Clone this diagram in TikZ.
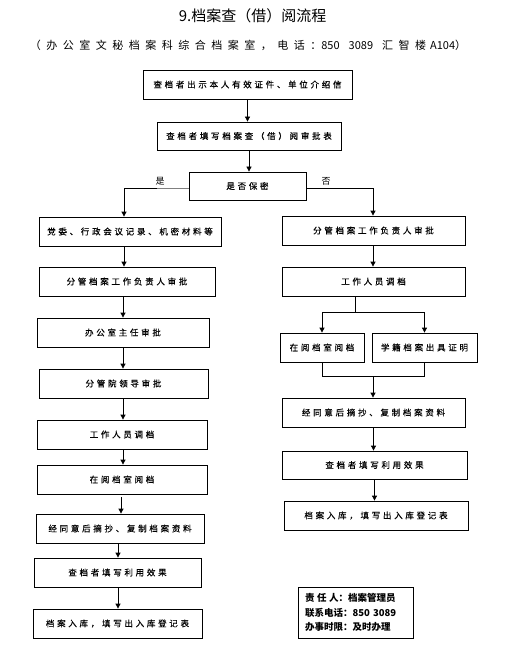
\documentclass[tikz,border=0pt]{standalone}
\usepackage{fontspec}
\setmainfont{Noto Sans CJK SC}
\newfontfamily\cjkplain{Noto Sans CJK SC}
\newfontfamily\cjksp[LetterSpace=32,FakeBold=0.2]{Noto Sans CJK SC}
\newfontfamily\cjksub[LetterSpace=50]{Noto Sans CJK SC}
\usetikzlibrary{arrows.meta}
\newcommand{\boxfont}{\cjksp\fontsize{8.5}{10}\selectfont}
\begin{document}
\begin{tikzpicture}[x=1pt,y=-1pt,
  box/.style={draw, line width=0.8pt, inner sep=0pt, minimum height=29pt, font=\boxfont},
  arr/.style={line width=0.8pt, -{Triangle[length=5pt,width=5pt]}},
  ln/.style={line width=0.8pt},
  lab/.style={font=\fontsize{9}{10}\selectfont, inner sep=0pt}]
\useasboundingbox[fill=white] (0,0) rectangle (517,655);

\node (title) at (252.5,16) {\fontsize{15}{15}\selectfont 9.档案查（借）阅流程};
\node (sub) at (248,45) {\fontsize{11}{12}\selectfont{\cjksub （办公室文秘档案科综合档案室，电话：}\cjkplain 850\hspace{9pt}3089\hspace{9pt}{\cjksub 汇智楼}\hspace{4pt}A104{\cjksub ）}};

\node[box, minimum width=209pt] (b1) at (247.5,84.5) {查档者出示本人有效证件、单位介绍信};
\node[box, minimum width=184pt, minimum height=28pt] (b2) at (249,136) {查档者填写档案查（借）阅审批表};
\node[box, minimum width=117pt, minimum height=28pt] (dec) at (247.5,186) {是否保密};

% left column
\node[box, minimum width=182pt] (L1) at (130,231.5) {党委、行政会议记录、机密材料等};
\node[box, minimum width=176pt] (L2) at (127,281.5) {分管档案工作负责人审批};
\node[box, minimum width=172pt] (L3) at (123,332.5) {办公室主任审批};
\node[box, minimum width=169pt] (L4) at (123.5,383.5) {分管院领导审批};
\node[box, minimum width=170pt] (L5) at (122,434.5) {工作人员调档};
\node[box, minimum width=170pt] (L6) at (122,479.5) {在阅档室阅档};
\node[box, minimum width=168pt] (L7) at (120,528.5) {经同意后摘抄、复制档案资料};
\node[box, minimum width=167pt] (L8) at (117.5,572.5) {查档者填写利用效果};
\node[box, minimum width=169pt] (L9) at (117.5,623.5) {档案入库，填写出入库登记表};

% right column
\node[box, minimum width=183pt] (R1) at (373.5,230.5) {分管档案工作负责人审批};
\node[box, minimum width=183pt] (R2) at (373.5,281.5) {工作人员调档};
\node[box, minimum width=84pt] (R3a) at (322,347.5) {在阅档室阅档};
\node[box, minimum width=105pt] (R3b) at (424.5,347.5) {学籍档案出具证明};
\node[box, minimum width=183pt] (R4) at (373.5,412.5) {经同意后摘抄、复制档案资料};
\node[box, minimum width=185pt, minimum height=28pt] (R5) at (374.5,465) {查档者填写利用效果};
\node[box, minimum width=184pt] (R6) at (376,515.5) {档案入库，填写出入库登记表};

% info box
\node[draw, line width=0.8pt, minimum width=115pt, minimum height=51pt, text width=101pt,
  inner xsep=7pt, inner ysep=0pt, align=left, font=\bfseries\fontsize{9.5}{14.5}\selectfont]
  (info) at (355.5,612.5) {责\hspace{2.5pt}任\hspace{2.5pt}人：档案管理员\\联系电话：850 3089\\办事时限：及时办理};

% labels
\node[lab] (yes) at (160,181) {是};
\node[lab] (no) at (326,181) {否};

% coordinates
\coordinate (jl) at (124,188);
\coordinate (jg) at (157,188);
\coordinate (jr) at (373,188);
\coordinate (xa) at (124,0);
\coordinate (xb) at (123,0);
\coordinate (xc) at (121,0);
\coordinate (xd) at (118,0);
\coordinate (sp) at (355,312);
\coordinate (mg) at (373,376);

% connectors top
\draw[arr] (b1.south) -- (b1.south |- b2.north);
\draw[arr] (b2.south) -- (b2.south |- dec.north);
\draw[ln, gray] (dec.west |- jg) -- (jg);
\draw[arr] (jg) -- (jl) -- (jl |- L1.north);
\draw[arr] (dec.east |- jr) -- (jr) -- (jr |- R1.north);

% left chain
\draw[arr] (L1.south -| xa) -- (L2.north -| xa);
\draw[arr] (L2.south -| xb) -- (L3.north -| xb);
\draw[arr] (L3.south -| xb) -- (L4.north -| xb);
\draw[arr] (L4.south -| xb) -- (L5.north -| xb);
\draw[arr] (L5.south -| xb) -- (L6.north -| xb);
\draw[arr] ([yshift=-3pt]L6.south -| xc) -- (L7.north -| xc);
\draw[arr] (L7.south -| xd) -- (L8.north -| xd);
\draw[arr] (L8.south -| xd) -- (L9.north -| xd);

% right chain
\draw[arr] (R1.south -| jr) -- (R2.north -| jr);
\draw[ln] (R2.south -| sp) -- (sp);
\draw[arr] (sp) -| (R3a.north);
\draw[arr] (sp) -| (R3b.north);
\draw[ln] (R3a.south) |- (mg);
\draw[ln] (R3b.south) |- (mg);
\draw[arr] (mg) -- (mg |- R4.north);
\draw[arr] (R4.south) -- (R4.south |- R5.north);
\draw[arr] (R5.south) -- (R5.south |- R6.north);
\end{tikzpicture}
\end{document}
